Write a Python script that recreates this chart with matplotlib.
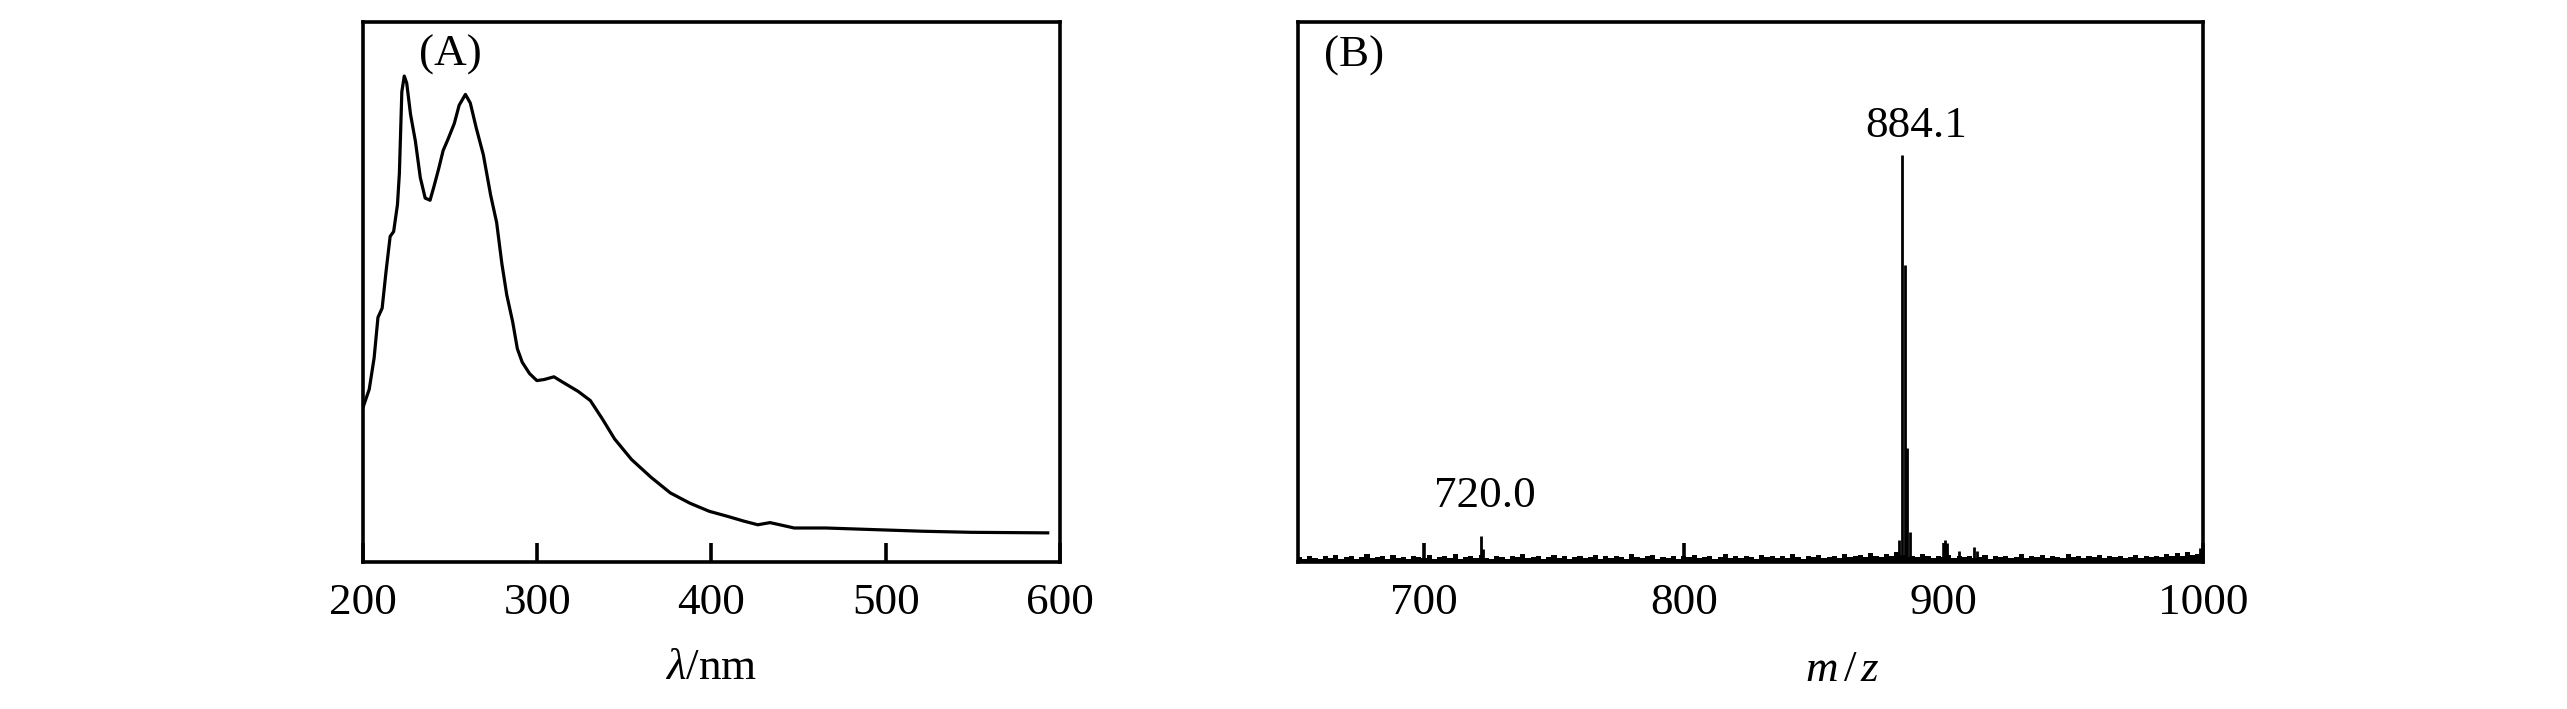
import matplotlib
matplotlib.use("Agg")
import matplotlib.pyplot as plt
import numpy as np

plt.rcParams['font.family'] = ['Liberation Serif', 'DejaVu Serif']
plt.rcParams['mathtext.fontset'] = 'custom'
plt.rcParams['mathtext.rm'] = 'Liberation Serif'
plt.rcParams['mathtext.it'] = 'Liberation Serif:italic'

# (A) UV-Vis spektar, ocitano sa slike (relativna apsorbancija)
lam = [200, 203.6, 206.4, 208.6, 211, 213.2, 215.6, 217.6, 219.8, 220.9, 222.3, 223.7,
       225.1, 227.3, 230.1, 232.9, 235.7, 238.5, 240.7, 243.5, 246, 248.8, 252.4,
       255.2, 258.8, 261.6, 265, 269.1, 273.3, 276.7, 279.7, 282.5, 285.9, 288.6,
       291.4, 295.6, 299.8, 304, 309.6, 315.2, 323.5, 330.5, 337.4, 344.4, 354.1,
       365.3, 376.4, 387.6, 398.7, 409.9, 418.3, 426.6, 433.6, 439.2, 447.5, 465.7,
       493.5, 521.4, 549.3, 593]
absorb = [0.286, 0.320, 0.378, 0.453, 0.470, 0.537, 0.603, 0.612, 0.662, 0.720, 0.871, 0.900,
          0.887, 0.829, 0.779, 0.712, 0.674, 0.670, 0.695, 0.729, 0.762, 0.783, 0.812,
          0.846, 0.866, 0.850, 0.804, 0.754, 0.679, 0.629, 0.553, 0.495, 0.445, 0.395,
          0.370, 0.349, 0.336, 0.338, 0.343, 0.332, 0.316, 0.299, 0.265, 0.228, 0.190,
          0.157, 0.128, 0.109, 0.094, 0.084, 0.076, 0.069, 0.073, 0.069, 0.063, 0.063,
          0.060, 0.057, 0.055, 0.054]

# (B) maseni spektar - sum osnovne linije (korak 2) i pikovi
mz_base = list(range(652, 1001, 2))
base_int = [0.010, 0.006, 0.012, 0.008, 0.005, 0.011, 0.007, 0.013, 0.006, 0.009,
            0.012, 0.005, 0.010, 0.014, 0.007, 0.009, 0.011, 0.006, 0.013, 0.008,
            0.010, 0.005, 0.012, 0.009, 0.007, 0.013, 0.006, 0.010, 0.012, 0.008,
            0.014, 0.006, 0.009, 0.011, 0.007, 0.013, 0.008, 0.005, 0.012, 0.010,
            0.006, 0.011, 0.009, 0.014, 0.007, 0.010, 0.012, 0.006, 0.009, 0.013,
            0.008, 0.011, 0.005, 0.010, 0.012, 0.007, 0.009, 0.013, 0.006, 0.011,
            0.008, 0.012, 0.010, 0.006, 0.014, 0.009, 0.007, 0.011, 0.013, 0.006,
            0.010, 0.008, 0.012, 0.005, 0.011, 0.009, 0.013, 0.007, 0.010, 0.012,
            0.006, 0.009, 0.014, 0.008, 0.011, 0.007, 0.012, 0.010, 0.006, 0.013,
            0.009, 0.011, 0.007, 0.012, 0.008, 0.014, 0.010, 0.006, 0.011, 0.009,
            0.013, 0.007, 0.010, 0.012, 0.008, 0.015, 0.009, 0.011, 0.013, 0.010,
            0.016, 0.012, 0.009, 0.014, 0.011, 0.018, 0.013, 0.010, 0.012, 0.009,
            0.014, 0.011, 0.008, 0.012, 0.010, 0.013, 0.007, 0.011, 0.009, 0.012,
            0.008, 0.010, 0.013, 0.006, 0.011, 0.009, 0.012, 0.007, 0.010, 0.014,
            0.008, 0.011, 0.009, 0.013, 0.007, 0.012, 0.010, 0.008, 0.014, 0.009,
            0.011, 0.007, 0.012, 0.010, 0.013, 0.008, 0.011, 0.009, 0.012, 0.007,
            0.010, 0.013, 0.008, 0.011, 0.009, 0.012, 0.010, 0.014, 0.011, 0.016,
            0.012, 0.018, 0.013, 0.015, 0.020]
peak_mz = [721.9, 722.6, 882.9, 884.1, 885.1, 886.1, 887.1, 900.6, 901.2, 906.0, 911.6, 913.0, 998.8]
peak_int = [0.048, 0.025, 0.040, 0.754, 0.550, 0.212, 0.055, 0.040, 0.035, 0.020, 0.028, 0.020, 0.026]

fig = plt.figure(figsize=(25.67, 7.09), dpi=100)
ax1 = fig.add_axes([0.1414, 0.2073, 0.2715, 0.7616])
ax2 = fig.add_axes([0.5057, 0.2073, 0.3526, 0.7616])

fs = 32.5
for ax in (ax1, ax2):
    for s in ax.spines.values():
        s.set_linewidth(2.6)
    ax.tick_params(axis='x', direction='in', length=13.5, width=2.6, pad=15, labelsize=fs)
    ax.set_yticks([])
    ax.set_ylim(0, 1)

# Graf A
ax1.plot(lam, absorb, color='black', lw=2.3)
ax1.set_xlim(200, 600)
ax1.set_xticks([200, 300, 400, 500, 600])
ax1.set_xlabel(r'$\lambda$/nm', fontsize=fs, va='center')
ax1.xaxis.set_label_coords(0.5, -0.196)
ax1.text(0.126, 0.939, '(A)', transform=ax1.transAxes, fontsize=fs, ha='center', va='center')

# Graf B
ax2.fill_between(mz_base, 0, base_int, step='mid', color='black', lw=0)
ax2.vlines(mz_base, 0, base_int, color='black', lw=1.5)
ax2.vlines(peak_mz, 0, peak_int, color='black', lw=2)
ax2.set_xlim(651.5, 1000)
ax2.set_xticks([700, 800, 900, 1000])
ax2.set_xlabel(r'$m\,/\,z$', fontsize=fs, va='center')
ax2.xaxis.set_label_coords(0.601, -0.2)
ax2.text(0.062, 0.937, '(B)', transform=ax2.transAxes, fontsize=fs, ha='center', va='center')
ax2.text(723.5, 0.122, '720.0', fontsize=fs, ha='center', va='center')
ax2.text(889.6, 0.807, '884.1', fontsize=fs, ha='center', va='center')

plt.savefig('out.png', dpi=100)
